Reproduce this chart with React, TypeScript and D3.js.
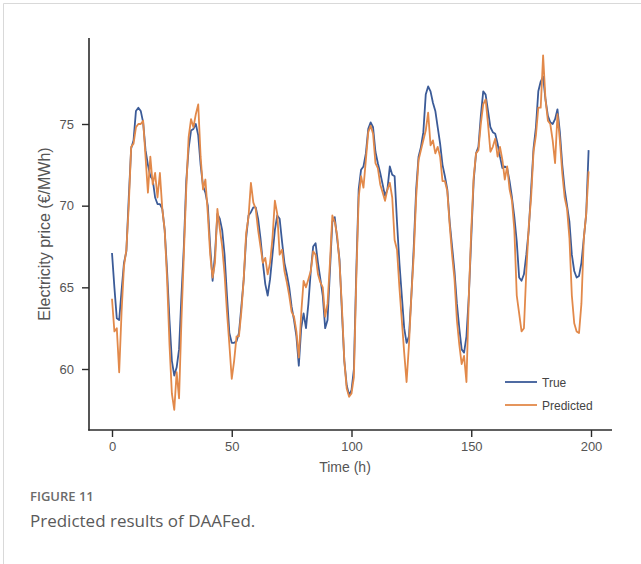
import { useEffect, useRef } from "react";
import * as d3 from "d3";

// hourly electricity price
const trueVals = [
  67.1, 65.0, 63.1, 63.0, 64.8, 66.5, 67.2, 70.5, 73.5, 74.0,
  75.8, 76.0, 75.8, 75.1, 73.4, 72.5, 71.8, 71.6, 70.5, 70.1,
  70.1, 69.8, 68.5, 66.0, 63.0, 60.5, 59.6, 60.1, 61.2, 64.5,
  67.5, 71.5, 73.5, 74.6, 74.7, 75.0, 74.3, 72.5, 71.2, 70.8,
  70.0, 67.5, 65.4, 67.0, 69.5, 69.2, 68.5, 67.0, 64.5, 62.2,
  61.6, 61.6, 61.7, 62.2, 63.8, 65.5, 68.0, 69.4, 69.6, 69.9,
  69.9, 69.2, 68.0, 66.5, 65.2, 64.5, 65.5, 67.0, 68.5, 69.4,
  69.2, 67.8, 66.5, 65.8, 65.0, 63.8, 63.0, 62.0, 60.2, 62.5,
  63.4, 62.5, 64.0, 66.0, 67.5, 67.7, 66.5, 65.5, 64.5, 62.5,
  63.0, 66.0, 69.0, 69.3, 68.0, 66.7, 63.5, 60.5, 59.0, 58.4,
  58.7, 60.0, 66.0, 71.0, 72.2, 72.4, 73.2, 74.7, 75.1, 74.8,
  73.3, 72.6, 72.0, 71.3, 70.6, 71.0, 72.4, 71.9, 71.8, 69.0,
  66.5, 64.5, 62.5, 61.6, 62.0, 64.5, 67.5, 71.0, 73.0, 73.6,
  74.5, 76.8, 77.3, 77.0, 76.3, 75.8, 74.8, 73.8, 72.5, 71.8,
  71.0, 69.0, 67.5, 66.0, 64.0, 62.5, 61.2, 61.0, 62.0, 64.5,
  68.0, 71.5, 73.2, 73.6, 75.5, 77.0, 76.8, 75.8, 74.8, 74.5,
  74.4, 73.8, 73.0, 72.3, 72.4, 72.3, 71.5, 70.5, 69.3, 67.8,
  65.6, 65.4, 65.8, 67.0, 68.5, 71.0, 73.5, 74.8, 77.0, 77.6,
  77.9, 76.5, 75.5, 75.1, 75.0, 75.3, 75.9, 74.5, 72.5, 71.0,
  70.0, 69.0, 67.0, 66.0, 65.6, 65.7, 66.5, 68.0, 69.5, 73.4,
];

const predVals = [
  64.3, 62.3, 62.5, 59.8, 63.5, 66.3, 67.3, 70.0, 73.6, 73.8,
  74.8, 75.0, 75.0, 75.2, 73.0, 70.8, 73.0, 71.3, 72.0, 70.5,
  72.0, 69.8, 68.5, 65.5, 61.5, 58.5, 57.5, 59.8, 58.2, 63.0,
  67.0, 71.0, 74.2, 75.3, 74.8, 75.6, 76.2, 73.0, 71.0, 71.6,
  69.5, 67.0, 65.6, 66.5, 69.8, 68.6, 67.5, 65.8, 63.5, 61.5,
  59.4, 60.5, 62.0, 62.0, 63.5, 65.5, 68.3, 69.3, 71.4, 70.2,
  69.8, 68.5, 67.5, 66.5, 66.8, 65.8, 66.5, 68.0, 70.3, 69.5,
  67.0, 67.3, 66.0, 65.3, 64.5, 63.5, 63.2, 62.3, 60.7, 63.4,
  65.4, 65.0, 65.5, 66.0, 67.2, 67.0, 65.8, 65.3, 65.0, 63.2,
  64.0, 66.5, 69.4, 69.0, 68.2, 66.5, 63.8, 60.5, 58.8, 58.3,
  58.5, 59.5, 65.5, 70.5, 71.8, 71.1, 72.8, 74.5, 74.9, 74.4,
  72.6, 72.3, 71.3, 70.8, 70.3, 71.0, 71.4, 70.5, 67.9, 67.3,
  65.0, 63.0, 61.0, 59.2, 61.5, 64.5, 67.0, 70.5, 72.8, 73.4,
  74.0, 74.6, 75.7, 73.7, 74.0, 73.2, 73.6, 73.0, 71.5, 71.5,
  70.9, 68.8, 67.0, 65.5, 63.0, 61.5, 60.3, 60.8, 59.2, 64.5,
  68.5, 71.7, 73.2, 73.4, 75.0, 76.2, 76.5, 75.0, 73.3, 73.6,
  74.1, 73.0, 73.6, 72.8, 71.6, 72.4, 71.0, 70.3, 68.5, 64.5,
  63.4, 62.3, 62.5, 66.0, 68.7, 70.5, 73.3, 74.3, 76.0, 76.0,
  79.2, 76.5, 75.2, 75.0, 74.0, 72.6, 75.6, 74.0, 72.0, 70.5,
  69.8, 68.0, 64.5, 62.8, 62.3, 62.2, 64.0, 68.0, 69.5, 72.1,
];

const xTicks = [0, 50, 100, 150, 200];
const yTicks = [60, 65, 70, 75];
const seriesNames = ["True", "Predicted"];
const colors = ["#3b5b98", "#e2894a"];

export default function App() {
  const ref = useRef<SVGSVGElement>(null);

  useEffect(() => {
    const width = 641;
    const height = 564;
    const svg = d3.select(ref.current).attr("width", width).attr("height", height);
    svg.selectAll("*").remove();

    // thin frame of the figure panel
    svg.append("path")
      .attr("d", "M3.5,564 V3.5 H641")
      .attr("fill", "none")
      .attr("stroke", "#d9d9d9");

    const x = d3.scaleLinear().domain([0, 200]).range([112, 591]);
    const y = d3.scaleLinear().domain([60, 75]).range([369, 124]);

    const line = d3.line<number>()
      .x((_, i) => x(i))
      .y(d => y(d));

    [trueVals, predVals].forEach((vals, k) => {
      svg.append("path")
        .datum(vals)
        .attr("fill", "none")
        .attr("stroke", colors[k])
        .attr("stroke-width", 1.8)
        .attr("stroke-linejoin", "round")
        .attr("d", line);
    });

    const axisColor = "#2b2b2b";
    const textColor = "#555";

    // axis lines
    svg.append("line")
      .attr("x1", 89).attr("x2", 89).attr("y1", 38).attr("y2", 430.5)
      .attr("stroke", axisColor).attr("stroke-width", 1.6);
    svg.append("line")
      .attr("x1", 88.2).attr("x2", 612).attr("y1", 430).attr("y2", 430)
      .attr("stroke", axisColor).attr("stroke-width", 1.6);

    const xAxis = svg.append("g")
      .attr("transform", "translate(0,430)")
      .call(d3.axisBottom(x).tickValues(xTicks).tickSize(7).tickPadding(5));
    xAxis.select(".domain").remove();
    xAxis.selectAll("line").attr("stroke", axisColor).attr("stroke-width", 1.4);
    xAxis.selectAll("text")
      .attr("fill", textColor)
      .attr("font-size", 13)
      .attr("font-family", "Liberation Sans, Arial, sans-serif");

    const yAxis = svg.append("g")
      .attr("transform", "translate(89,0)")
      .call(d3.axisLeft(y).tickValues(yTicks).tickSize(7).tickPadding(8));
    yAxis.select(".domain").remove();
    yAxis.selectAll("line").attr("stroke", axisColor).attr("stroke-width", 1.4);
    yAxis.selectAll("text")
      .attr("fill", textColor)
      .attr("font-size", 13)
      .attr("font-family", "Liberation Sans, Arial, sans-serif");

    svg.append("text")
      .attr("x", 345).attr("y", 472)
      .attr("text-anchor", "middle")
      .attr("fill", textColor)
      .attr("font-size", 14)
      .attr("font-family", "Liberation Sans, Arial, sans-serif")
      .text("Time (h)");

    svg.append("text")
      .attr("transform", "translate(50,234) rotate(-90)")
      .attr("text-anchor", "middle")
      .attr("fill", textColor)
      .attr("font-size", 16)
      .attr("font-family", "Liberation Sans, Arial, sans-serif")
      .text("Electricity price (€/MWh)");

    // legend
    const legend = svg.append("g").attr("transform", "translate(505,382)");
    seriesNames.forEach((name, i) => {
      const g = legend.append("g").attr("transform", `translate(0,${i * 23})`);
      g.append("line")
        .attr("x1", 0).attr("x2", 32).attr("y1", 0).attr("y2", 0)
        .attr("stroke", colors[i]).attr("stroke-width", 1.8);
      g.append("text")
        .attr("x", 37).attr("y", 4.5)
        .attr("fill", "#444")
        .attr("font-size", 12)
        .attr("font-family", "Liberation Sans, Arial, sans-serif")
        .text(name);
    });

    // caption
    svg.append("text")
      .attr("x", 30).attr("y", 501)
      .attr("fill", "#6b6b6b")
      .attr("font-size", 13)
      .attr("font-weight", 600)
      .attr("font-family", "Open Sans, Noto Sans, sans-serif")
      .text("FIGURE 11");
    svg.append("text")
      .attr("x", 30).attr("y", 527)
      .attr("fill", "#5a5a5a")
      .attr("font-size", 17)
      .attr("font-family", "Open Sans, Noto Sans, sans-serif")
      .text("Predicted results of DAAFed.");
  }, []);

  return <svg ref={ref} style={{ position: "absolute", left: 0, top: 0 }} />;
}
